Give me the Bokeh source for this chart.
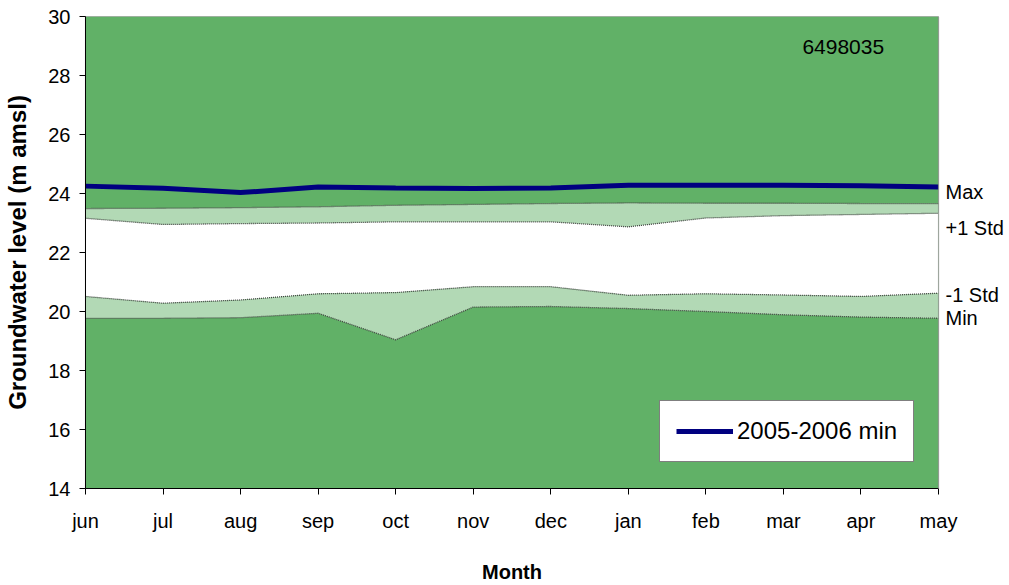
from bokeh.plotting import figure
from bokeh.models import FixedTicker, Label, LinearAxis, Range1d
from bokeh.embed import file_html
from bokeh.resources import INLINE

# Monthly groundwater statistics for bore 6498035 (m amsl)
months = ["jun", "jul", "aug", "sep", "oct", "nov", "dec", "jan", "feb", "mar", "apr", "may"]
max_level = [23.49, 23.50, 23.52, 23.55, 23.60, 23.63, 23.66, 23.68, 23.67, 23.67, 23.66, 23.66]
plus_1_std = [23.16, 22.95, 22.98, 23.00, 23.04, 23.04, 23.04, 22.87, 23.17, 23.25, 23.29, 23.33]
minus_1_std = [20.51, 20.28, 20.39, 20.60, 20.64, 20.84, 20.84, 20.55, 20.60, 20.56, 20.51, 20.62]
min_level = [19.77, 19.77, 19.79, 19.94, 19.04, 20.15, 20.17, 20.10, 20.00, 19.89, 19.81, 19.77]
min_2005_2006 = [24.25, 24.18, 24.03, 24.22, 24.19, 24.17, 24.19, 24.28, 24.28, 24.28, 24.26, 24.22]
y_ticks = [14, 16, 18, 20, 22, 24, 26, 28, 30]
series_names = ["Max", "+1 Std", "-1 Std", "Min"]

x = list(range(len(months)))
last = len(months) - 1
Y_LO, Y_HI = 14, 30

GREEN = "#61b167"
STIPPLE = "#b2d9b5"
EDGE = "#444444"
BORDER = "#888888"
FONT = "Liberation Sans"

FRAME_H = 473  # pixels between the 14 and 30 gridlines

p = figure(
    width=1009, height=585,
    x_range=Range1d(0, last), y_range=Range1d(Y_LO, Y_HI),
    output_backend="svg", toolbar_location=None,
    min_border_left=85, min_border_right=71, min_border_top=16, min_border_bottom=96,
)
p.background_fill_color = GREEN
p.border_fill_color = "white"
p.outline_line_color = BORDER
p.outline_line_dash = "1 1"
p.outline_line_width = 1.2
p.xgrid.visible = False
p.ygrid.visible = False

# stippled between max and +1 std and between -1 std and min; white in between
p.varea(x=x, y1=plus_1_std, y2=max_level, fill_color=STIPPLE)
p.varea(x=x, y1=minus_1_std, y2=plus_1_std, fill_color="white")
p.varea(x=x, y1=min_level, y2=minus_1_std, fill_color=STIPPLE)
for edge in (max_level, plus_1_std, minus_1_std, min_level):
    p.line(x=x, y=edge, line_color=EDGE, line_width=1.3, line_dash="1 1")

p.line(x=x, y=min_2005_2006, line_color="#000080", line_width=5,
       legend_label="2005-2006 min")

# axes
p.xaxis.ticker = FixedTicker(ticks=x)
p.xaxis.major_label_overrides = {i: m for i, m in enumerate(months)}
p.yaxis.ticker = FixedTicker(ticks=y_ticks)
for ax in (p.xaxis[0], p.yaxis[0]):
    ax.major_tick_in = 0
    ax.major_tick_out = 6
    ax.minor_tick_line_color = None
    ax.axis_line_color = "black"
    ax.major_tick_line_color = "black"
    ax.major_label_text_font = FONT
    ax.major_label_text_font_size = "20px"
    ax.major_label_text_color = "black"
    ax.axis_label_text_font = FONT
    ax.axis_label_text_font_style = "bold"
    ax.axis_label_text_color = "black"

p.xaxis.axis_label = "Month"
p.xaxis.axis_label_text_font_size = "20px"
p.xaxis.major_label_standoff = 15
p.xaxis.axis_label_standoff = 26
p.yaxis.axis_label = "Groundwater level (m amsl)"
p.yaxis.axis_label_text_font_size = "24px"
p.yaxis.major_label_standoff = 9
p.yaxis.axis_label_standoff = 14

# series names beside the last month, nudged (in pixels) so they do not collide
px_per_unit = FRAME_H / (Y_HI - Y_LO)
nudges = [12, -15, -2, 0]
ends = [max_level[-1], plus_1_std[-1], minus_1_std[-1], min_level[-1]]
name_pos = [round(v + d / px_per_unit, 4) for v, d in zip(ends, nudges)]
right = LinearAxis(
    ticker=FixedTicker(ticks=name_pos),
    major_label_overrides={v: n for v, n in zip(name_pos, series_names)},
    major_tick_in=0, major_tick_out=0, minor_tick_line_color=None,
    axis_line_color=BORDER, axis_line_dash="1 1", axis_line_width=1.2,
    major_label_standoff=7, major_label_text_font=FONT,
    major_label_text_font_size="20px", major_label_text_color="black",
)
p.add_layout(right, "right")

# station id
p.add_layout(Label(x=9.245, y=28.95, text="6498035", text_font=FONT,
                   text_font_size="21px", text_color="black",
                   text_baseline="middle", text_align="left"))

leg = p.legend[0]
leg.location = (574, 26)
leg.label_text_font = FONT
leg.label_text_font_size = "24px"
leg.label_text_color = "black"
leg.border_line_color = "black"
leg.border_line_width = 1
leg.background_fill_color = "white"
leg.background_fill_alpha = 1
leg.padding = 16
leg.margin = 0
leg.glyph_width = 57
leg.label_standoff = 4

open("out.html", "w").write(file_html(p, INLINE))
